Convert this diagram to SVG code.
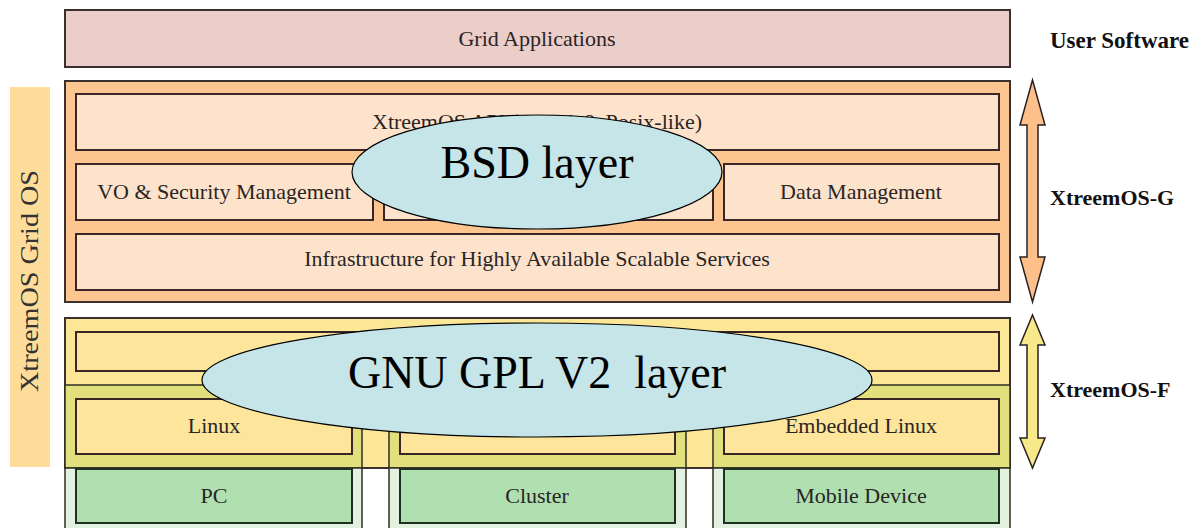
<svg xmlns="http://www.w3.org/2000/svg" width="1197" height="528" viewBox="0 0 1197 528">
<style>
text{font-family:"Liberation Serif","Times New Roman",serif;fill:#2a2525;}
.lbl{font-size:22px;text-anchor:middle;}
.side{font-size:22px;font-weight:bold;fill:#111;}
.big{font-size:46px;text-anchor:middle;fill:#000;white-space:pre;}
.box{stroke:#3a2626;stroke-width:2;}
.outer{stroke:#3a3030;stroke-width:2;}
.peach{fill:#fde3cb;}
.ylw{fill:#fde69b;}
.band{fill:#e1e07c;stroke:#2e2e22;stroke-width:1.5;}
.gcol{fill:#e3f1e0;stroke:#2e2e22;stroke-width:1.5;}
.gbox{fill:#b0e0b0;stroke:#203020;stroke-width:2;}
.ell{fill:#c5e5e9;stroke:#000;stroke-width:1.2;}
.arr{stroke:#2a2020;stroke-width:1.5;}
</style>

<g id="grid-os-bar">
  <rect x="10" y="87" width="40" height="380" fill="#fedd9b"/>
  <text transform="translate(38,281) rotate(-90)" style="font-size:25px;text-anchor:middle;fill:#333" textLength="222" lengthAdjust="spacingAndGlyphs">XtreemOS Grid OS</text>
</g>

<g id="grid-applications">
  <rect class="outer" x="65" y="10" width="945" height="57" fill="#ebcdc9"/>
  <text class="lbl" x="537" y="46">Grid Applications</text>
</g>

<g id="xtreemos-g-layer">
  <rect class="outer" x="65" y="81" width="945" height="221" fill="#fdc590"/>
  <g id="api">
    <rect class="box peach" x="76" y="94" width="923" height="56"/>
    <text class="lbl" x="537" y="129">XtreemOS API (SAGA &amp; Posix-like)</text>
  </g>
  <g id="vo-security">
    <rect class="box peach" x="76" y="164" width="297" height="56"/>
    <text class="lbl" x="224" y="199">VO &amp; Security Management</text>
  </g>
  <g id="middle-service">
    <rect class="box peach" x="384" y="164" width="329" height="56"/>
  </g>
  <g id="data-management">
    <rect class="box peach" x="724" y="164" width="275" height="56"/>
    <text class="lbl" x="861" y="199">Data Management</text>
  </g>
  <g id="infrastructure">
    <rect class="box peach" x="76" y="234" width="923" height="56"/>
    <text class="lbl" x="537" y="266">Infrastructure for Highly Available Scalable Services</text>
  </g>
</g>

<g id="xtreemos-f-layer">
  <rect class="outer" x="65" y="318" width="945" height="150" fill="#fbe795"/>
  <g id="f-top">
    <rect class="box ylw" x="76" y="332" width="923" height="39"/>
  </g>
  <g id="col-linux">
    <rect class="band" x="65" y="385" width="297" height="83"/>
    <rect class="box ylw" x="76" y="399" width="276" height="55"/>
    <text class="lbl" x="214" y="433">Linux</text>
  </g>
  <g id="col-cluster-os">
    <rect class="band" x="389" y="385" width="297" height="83"/>
    <rect class="box ylw" x="400" y="399" width="275" height="55"/>
  </g>
  <g id="col-embedded">
    <rect class="band" x="713" y="385" width="297" height="83"/>
    <rect class="box ylw" x="724" y="399" width="275" height="55"/>
    <text class="lbl" x="861" y="433">Embedded Linux</text>
  </g>
</g>

<g id="hardware">
  <g id="pc">
    <rect class="gcol" x="65" y="468" width="297" height="70"/>
    <rect class="gbox" x="76" y="469" width="276" height="54"/>
    <text class="lbl" x="214" y="503">PC</text>
  </g>
  <g id="cluster">
    <rect class="gcol" x="389" y="468" width="297" height="70"/>
    <rect class="gbox" x="400" y="469" width="275" height="54"/>
    <text class="lbl" x="537" y="503">Cluster</text>
  </g>
  <g id="mobile">
    <rect class="gcol" x="713" y="468" width="297" height="70"/>
    <rect class="gbox" x="724" y="469" width="275" height="54"/>
    <text class="lbl" x="861" y="503">Mobile Device</text>
  </g>
</g>

<g id="connectors">
  <polygon class="arr" fill="#fdc08a" points="1032.5,80 1045,125 1038,125 1038,257 1045,257 1032.5,302 1020,257 1027,257 1027,125 1020,125"/>
  <polygon class="arr" fill="#f7e98a" points="1032.5,315 1045,345 1038,345 1038,438 1045,438 1032.5,468 1020,438 1027,438 1027,345 1020,345"/>
</g>

<g id="side-labels">
  <text class="side" x="1050" y="48" style="font-size:23px">User Software</text>
  <text class="side" x="1050" y="205">XtreemOS-G</text>
  <text class="side" x="1050" y="397">XtreemOS-F</text>
</g>

<g id="bsd-layer">
  <ellipse class="ell" cx="537" cy="172" rx="185" ry="57"/>
  <text class="big" x="537" y="178">BSD layer</text>
</g>

<g id="gpl-layer">
  <ellipse class="ell" cx="537" cy="380" rx="335" ry="57"/>
  <text class="big" x="537" y="388">GNU GPL V2  layer</text>
</g>
</svg>
